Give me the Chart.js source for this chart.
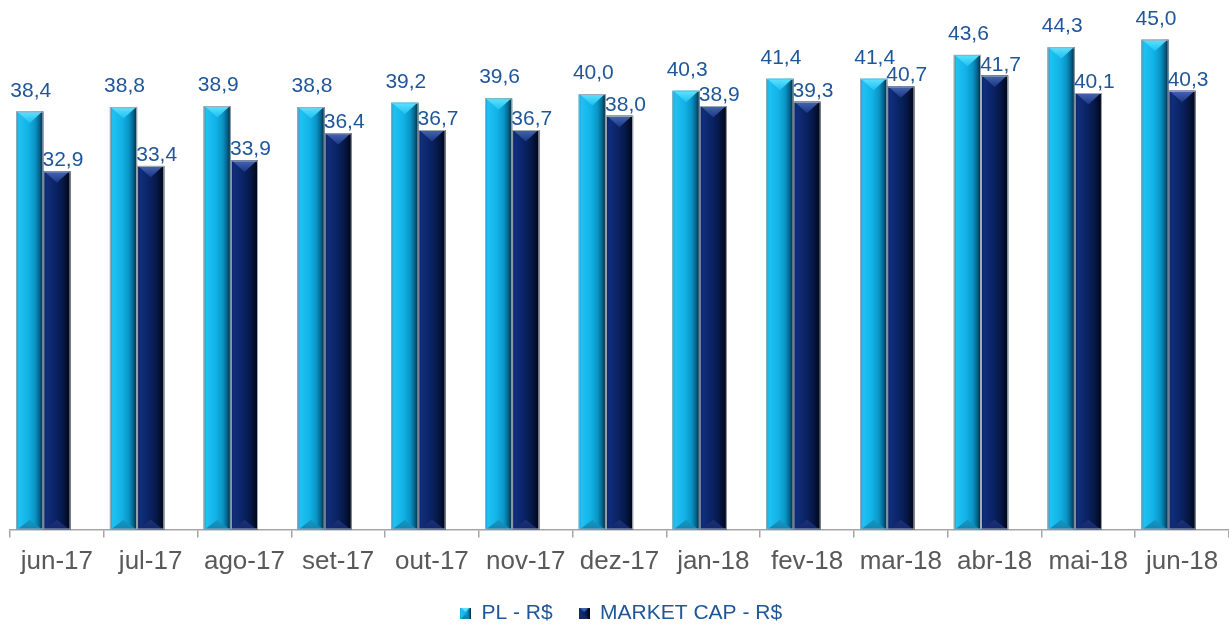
<!DOCTYPE html>
<html>
<head>
<meta charset="utf-8">
<script src="https://cdn.jsdelivr.net/npm/chart.js@4.4.0/dist/chart.umd.min.js"></script>
<style>
  html, body { margin: 0; padding: 0; background: #ffffff; }
  #wrap { width: 1229px; height: 626px; position: relative; }
</style>
</head>
<body>
<div id="wrap"><canvas id="c" width="1229" height="626"></canvas></div>
<script>
const categories = ['jun-17','jul-17','ago-17','set-17','out-17','nov-17','dez-17','jan-18','fev-18','mar-18','abr-18','mai-18','jun-18'];
const plValues = [38.4, 38.8, 38.9, 38.8, 39.2, 39.6, 40.0, 40.3, 41.4, 41.4, 43.6, 44.3, 45.0];
const marketCapValues = [32.9, 33.4, 33.9, 36.4, 36.7, 36.7, 38.0, 38.9, 39.3, 40.7, 41.7, 40.1, 40.3];
const seriesNames = ['PL - R$', 'MARKET CAP - R$'];

const FONT = "'Liberation Sans', Arial, Helvetica, sans-serif";
const LABEL_COLOR = '#1f5699';

const palettes = [
  {
    body: [[0, '#0c98cc'], [0.1, '#1fc2f2'], [0.45, '#12b2e6'], [0.7, '#0a94c4'], [0.85, '#066690'], [1, '#022638']],
    top: ['#5fe2ff', '#1cc0f2'],
    bottom: ['#0f86b4', '#1a98c4'],
    solid: '#14b0e2'
  },
  {
    body: [[0, '#0a2060'], [0.12, '#112e7c'], [0.45, '#0a2364'], [0.72, '#061847'], [0.88, '#030d2a'], [1, '#00040f']],
    top: ['#4565b4', '#1b3784'],
    bottom: ['#14276a', '#1d3378'],
    solid: '#0b2262'
  }
];

function drawBevelBar(ctx, el, pal) {
  const p = el.getProps(['x', 'y', 'base', 'width'], true);
  const L = p.x - p.width / 2, R = p.x + p.width / 2;
  const T = Math.min(p.y, p.base), B = Math.max(p.y, p.base);
  const w = R - L;
  const d = w * 0.42;
  ctx.save();
  const g = ctx.createLinearGradient(L, 0, R, 0);
  pal.body.forEach(s => g.addColorStop(s[0], s[1]));
  ctx.fillStyle = g;
  ctx.fillRect(L, T, w, B - T);
  const gt = ctx.createLinearGradient(0, T, 0, T + d);
  gt.addColorStop(0, pal.top[0]);
  gt.addColorStop(1, pal.top[1]);
  ctx.fillStyle = gt;
  ctx.beginPath();
  ctx.moveTo(L + 1, T);
  ctx.lineTo(R - 1, T);
  ctx.lineTo(p.x, T + d);
  ctx.closePath();
  ctx.fill();
  const gb = ctx.createLinearGradient(0, B, 0, B - d);
  gb.addColorStop(0, pal.bottom[0]);
  gb.addColorStop(1, pal.bottom[1]);
  ctx.fillStyle = gb;
  ctx.beginPath();
  ctx.moveTo(L + 1, B);
  ctx.lineTo(R - 1, B);
  ctx.lineTo(p.x, B - d * 0.85);
  ctx.closePath();
  ctx.fill();
  ctx.strokeStyle = '#a3abb3';
  ctx.lineWidth = 1;
  ctx.strokeRect(L + 0.5, T + 0.5, w - 1, B - T - 1);
  ctx.restore();
}

function makeLegendIcon(pal) {
  const c = document.createElement('canvas');
  c.width = 11; c.height = 11;
  const x = c.getContext('2d');
  const g = x.createLinearGradient(0, 0, 11, 0);
  pal.body.forEach(s => g.addColorStop(s[0], s[1]));
  x.fillStyle = g;
  x.fillRect(0, 0, 11, 11);
  x.fillStyle = pal.top[0];
  x.beginPath(); x.moveTo(1, 0); x.lineTo(10, 0); x.lineTo(5.5, 4.5); x.closePath(); x.fill();
  x.fillStyle = pal.bottom[0];
  x.beginPath(); x.moveTo(1, 11); x.lineTo(10, 11); x.lineTo(5.5, 7); x.closePath(); x.fill();
  return c;
}
const legendIcons = palettes.map(makeLegendIcon);

const bevelPlugin = {
  id: 'bevel',
  afterDatasetsDraw(chart) {
    const ctx = chart.ctx;
    [0, 1].forEach(di => {
      const meta = chart.getDatasetMeta(di);
      if (meta.hidden) return;
      meta.data.forEach(el => drawBevelBar(ctx, el, palettes[di]));
    });
    ctx.save();
    ctx.font = '21px ' + FONT;
    ctx.fillStyle = LABEL_COLOR;
    ctx.textAlign = 'center';
    ctx.textBaseline = 'alphabetic';
    [0, 1].forEach(di => {
      const meta = chart.getDatasetMeta(di);
      const vals = chart.data.datasets[di].data;
      meta.data.forEach((el, i) => {
        const p = el.getProps(['x', 'y'], true);
        const txt = vals[i].toFixed(1).replace('.', ',');
        if (di === 0) ctx.fillText(txt, p.x + 1, p.y - 15);
        else ctx.fillText(txt, p.x + 6, p.y - 5);
      });
    });
    ctx.restore();
  }
};

new Chart(document.getElementById('c'), {
  type: 'bar',
  data: {
    labels: categories,
    datasets: [
      { label: seriesNames[0], data: plValues, backgroundColor: palettes[0].solid, borderWidth: 0 },
      { label: seriesNames[1], data: marketCapValues, backgroundColor: palettes[1].solid, borderWidth: 0 },
      { label: '', data: categories.map(() => null), backgroundColor: 'rgba(0,0,0,0)', borderWidth: 0 }
    ]
  },
  options: {
    responsive: false,
    animation: false,
    devicePixelRatio: 1,
    barPercentage: 1.0,
    categoryPercentage: 0.8686,
    layout: { padding: { top: 7, left: 10, right: -3, bottom: -7.5 } },
    plugins: {
      tooltip: { enabled: false },
      legend: {
        display: true,
        position: 'bottom',
        labels: {
          usePointStyle: true,
          boxWidth: 11,
          boxHeight: 11,
          padding: 26,
          color: LABEL_COLOR,
          font: { size: 21, family: FONT },
          generateLabels(chart) {
            return [0, 1].map(i => ({
              text: seriesNames[i],
              fillStyle: palettes[i].solid,
              strokeStyle: palettes[i].solid,
              lineWidth: 0,
              pointStyle: legendIcons[i],
              fontColor: LABEL_COLOR,
              hidden: false,
              datasetIndex: i
            }));
          }
        }
      }
    },
    scales: {
      x: {
        offset: true,
        grid: { display: true, offset: true, drawOnChartArea: false, drawTicks: true, tickLength: 8, color: '#a6a6a6', lineWidth: 1.5 },
        border: { display: true, color: '#a6a6a6', width: 1.5 },
        ticks: { color: '#595959', font: { size: 26, family: FONT }, padding: 8.5, maxRotation: 0, autoSkip: false },
        afterFit(scale) { scale.height -= 9.2; }
      },
      y: {
        display: false,
        min: 0,
        max: 48
      }
    }
  },
  plugins: [bevelPlugin]
});
</script>
</body>
</html>
